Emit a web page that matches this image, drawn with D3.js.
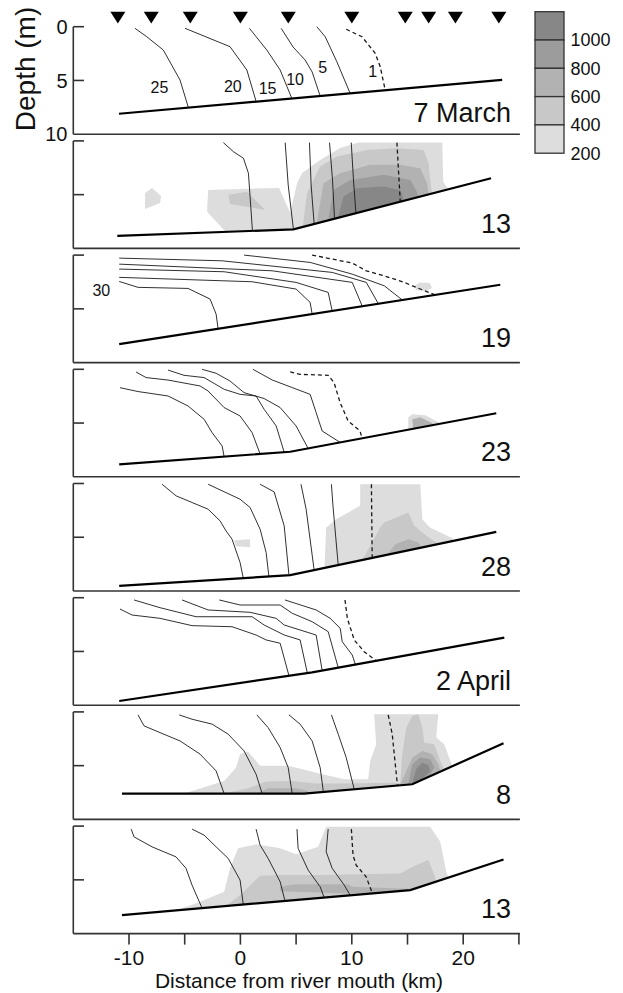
<!DOCTYPE html>
<html>
<head>
<meta charset="utf-8">
<script src="https://cdn.jsdelivr.net/npm/d3@7"></script>
<style>
  body { margin: 0; background: #fff; }
  text { font-family: "Liberation Sans", Arial, sans-serif; fill: #111; }
</style>
</head>
<body>
<div id="chart"></div>
<script>
// axis values
const xTicks = [-10, -5, 0, 5, 10, 15, 20, 25];
const xTickLabels = [-10, 0, 10, 20];
const depthTicks = [0, 5];
const depthLabels = [0, 5, 10];
const stationKm = [-11, -8, -4.5, 0, 4.3, 10, 14.8, 16.9, 19.3, 23.2];

// legend (concentration classes, top = highest)
const legendValues = [1000, 800, 600, 400, 200];
const shadeColors = ["#dddddd", "#c8c8c8", "#b2b2b2", "#9c9c9c", "#878787"]; // level 1..5

const panelNames = ["7 March", "13", "19", "23", "28", "2 April", "8", "13"];

// seabed profile per survey: [km, depth m]
const seabeds = [
  [[-10.9, 8.1], [23.5, 4.95]],
  [[-11.05, 8.84], [4.76, 8.23], [22.5, 3.47]],
  [[-10.88, 8.28], [23.33, 2.76]],
  [[-10.88, 8.84], [4.47, 7.67], [22.97, 4.09]],
  [[-10.88, 9.53], [4.47, 8.53], [22.97, 4.5]],
  [[-10.88, 9.61], [6.44, 6.94], [23.69, 3.72]],
  [[-10.63, 7.6], [5.72, 7.6], [15.43, 6.73], [23.62, 2.91]],
  [[-10.63, 8.28], [15.25, 5.95], [23.62, 3.1]]
];

// isohalines per survey: [salinity, points]
const isohalines = [
  [
    [25, [[-9.46, 0.15], [-8.41, 0.93], [-6.92, 2.17], [-5.42, 4.96], [-4.67, 7.52]]],
    [20, [[-4.97, 0.15], [-0.93, 1.86], [0.58, 4.03], [1.41, 6.95]]],
    [15, [[0.81, 0.15], [2.37, 2.17], [3.57, 4.03], [4.62, 6.68]]],
    [10, [[3.66, 0.15], [4.73, 1.89], [5.81, 3.1], [6.44, 4.21], [7.16, 6.45]]],
    [5, [[6.86, 0], [7.61, 0.93], [8.66, 3.26], [9.85, 6.2]]],
    [1, [[9.5, 0.24], [10.91, 0.93], [12.1, 2.47], [12.55, 3.72], [13.0, 5.9]]]
  ],
  [
    [25, [[-1.53, 0.16], [-0.63, 1.0], [0.27, 1.61], [0.72, 3.0], [0.87, 5.18], [1.08, 8.35]]],
    [20, [[4.02, 0.16], [4.29, 4.1], [4.76, 8.23]]],
    [15, [[6.2, 0.16], [6.35, 4.1], [6.62, 7.73]]],
    [10, [[8.0, 0.16], [8.27, 3.63], [8.45, 7.25]]],
    [5, [[9.95, 0.16], [10.15, 3.63], [10.37, 6.72]]],
    [1, [[14.05, 0.16], [14.35, 5.67]]]
  ],
  [
    [30, [[-10.88, 2.45], [-9.19, 3.0], [-4.7, 3.1], [-2.72, 4.09], [-2.18, 5.49], [-2.0, 6.85]]],
    [25, [[-10.88, 2.07], [1.05, 2.48], [5.0, 3.16], [6.26, 4.4], [6.44, 5.48]]],
    [20, [[-10.88, 1.3], [-1.46, 1.55], [5.0, 2.54], [7.88, 3.47], [8.24, 5.19]]],
    [15, [[-10.88, 0.84], [2.85, 1.46], [10.04, 2.54], [10.94, 4.76]]],
    [10, [[-10.88, 0.28], [-1.64, 0.53], [8.24, 1.61], [11.3, 2.54], [12.37, 4.5]]],
    [5, [[0.33, 0], [6.26, 0.68], [10.04, 1.77], [12.92, 2.86], [14.54, 4.18]]],
    [1, [[6.44, 0], [10.04, 0.74], [11.3, 1.46], [12.92, 1.93], [14.72, 2.54], [15.44, 2.86], [17.42, 3.68]]]
  ],
  [
    [25, [[-10.81, 1.71], [-9.19, 2.07], [-6.5, 2.48], [-4.7, 3.41], [-3.26, 4.65], [-2.54, 5.89], [-1.64, 7.13], [-1.46, 8.12]]],
    [20, [[-9.37, 0.25], [-8.47, 0.77], [-6.5, 1.0], [-3.62, 1.55], [-2.9, 2.02], [-1.46, 3.56], [-0.03, 4.34], [1.05, 5.89], [1.77, 7.88]]],
    [15, [[-6.5, 0.07], [-5.06, 0.56], [-3.26, 0.77], [-1.46, 1.86], [-0.03, 2.33], [1.41, 2.48], [2.13, 3.72], [3.21, 5.27], [3.93, 7.71]]],
    [10, [[-3.44, 0], [-2.18, 0.37], [-0.93, 1.09], [0.33, 2.17], [2.13, 2.72], [3.57, 3.56], [5.0, 5.27], [6.08, 7.36]]],
    [5, [[1.12, 0], [2.85, 0.99], [4.65, 1.7], [6.26, 2.33], [6.8, 4.03], [7.34, 5.74], [8.95, 6.8]]],
    [1, [[4.47, 0.25], [5.36, 0.47], [7.88, 0.56], [8.41, 1.24], [8.95, 3.1], [9.67, 4.81], [10.74, 5.74], [10.92, 6.42]]]
  ],
  [
    [25, [[-7.03, 0.07], [-5.77, 1.15], [-2.9, 2.39], [-1.82, 3.48], [-1.29, 4.41], [-0.75, 5.18], [-0.03, 7.35], [0.26, 8.8]]],
    [20, [[-2.9, 0.07], [-0.03, 1.46], [0.87, 2.23], [1.77, 4.25], [2.31, 6.42], [2.56, 8.65]]],
    [15, [[1.77, 0.07], [3.03, 0.78], [3.93, 3.94], [4.36, 8.54]]],
    [10, [[5.44, 0.07], [5.9, 2.39], [6.62, 8.06]]],
    [5, [[8.17, 0.07], [8.31, 2.08], [8.78, 7.59]]],
    [1, [[11.76, 0.07], [11.83, 6.93]]]
  ],
  [
    [25, [[-10.81, 1.05], [-9.73, 1.61], [-7.21, 1.92], [-4.34, 2.6], [-0.75, 2.7], [1.41, 3.47], [2.31, 3.93], [3.57, 4.24], [4.36, 7.26]]],
    [20, [[-9.55, 0.21], [-7.21, 0.93], [-3.98, 1.77], [1.05, 1.77], [2.13, 2.54], [3.93, 3.47], [5.36, 3.93], [6.01, 7.01]]],
    [15, [[-5.24, 0.21], [-2.9, 1.14], [0.87, 1.36], [3.21, 1.92], [3.93, 2.54], [6.8, 3.47], [7.34, 6.77]]],
    [10, [[-1.9, 0.21], [-0.03, 0.68], [3.57, 0.68], [4.65, 1.45], [6.44, 2.23], [7.88, 3.16], [8.78, 6.5]]],
    [5, [[4.0, 0.21], [6.8, 1.14], [8.06, 1.92], [8.96, 2.85], [9.14, 4.09], [10.04, 5.33], [10.32, 6.22]]],
    [1, [[9.39, 0.21], [9.6, 1.92], [10.22, 3.93], [11.11, 5.02], [12.19, 5.87]]]
  ],
  [
    [25, [[-9.19, 0.28], [-8.65, 1.3], [-7.21, 1.93], [-5.42, 2.7], [-3.62, 3.93], [-2.18, 5.49], [-1.46, 7.6]]],
    [20, [[-5.49, 0.28], [-4.34, 0.68], [-2.54, 1.14], [-1.1, 2.07], [0.33, 3.63], [1.41, 5.8], [1.95, 7.6]]],
    [15, [[1.48, 0.28], [2.49, 1.46], [3.57, 3.32], [4.29, 5.18], [4.65, 7.6]]],
    [10, [[4.36, 0.28], [5.36, 1.14], [6.44, 2.7], [7.16, 5.18], [7.45, 7.45]]],
    [5, [[8.17, 0.28], [8.78, 2.07], [9.5, 4.25], [10.22, 7.2]]],
    [1, [[13.27, 0.28], [13.63, 2.07], [13.81, 3.93], [14.1, 6.85]]]
  ],
  [
    [25, [[-9.8, 0.28], [-9.55, 1.0], [-7.93, 1.93], [-5.78, 2.86], [-4.88, 3.93], [-4.34, 5.49], [-3.44, 7.63]]],
    [20, [[-4.34, 0.28], [-3.26, 0.84], [-2.18, 1.93], [-1.1, 3.0], [-0.03, 5.02], [0.26, 7.3]]],
    [15, [[1.41, 0.28], [1.77, 1.77], [2.49, 3.0], [3.57, 5.18], [4.0, 6.96]]],
    [10, [[5.08, 0.28], [5.18, 2.07], [6.08, 4.09], [7.16, 5.65], [7.52, 6.65]]],
    [5, [[7.88, 0.28], [7.7, 2.39], [8.24, 3.93], [9.32, 5.49], [9.86, 6.44]]],
    [1, [[9.96, 0.28], [10.11, 2.7], [10.39, 3.63], [11.29, 4.72], [11.83, 6.2]]]
  ]
];

// salinity labels on the first survey: [text, km, depth]
const salinityLabels = [["25", -7.27, 5.6], ["20", -0.68, 5.5], ["15", 2.44, 5.7], ["10", 4.91, 4.91], ["5", 7.39, 3.79], ["1", 11.88, 4.1]];
const panel3Label = ["30", -12.48, 3.27];

// shaded concentration areas per survey: [level 1..5, points]
const patches = [
  [],
  [
    [1, [[-8.56, 4.84], [-7.93, 4.37], [-7.12, 5.12], [-7.21, 5.77], [-8.56, 6.33]]],
    [1, [[-1.28, 8.5], [-2.99, 6.6], [-2.9, 4.56], [3.48, 4.37], [4.47, 6.7], [5.09, 3.91], [5.54, 2.98], [7.16, 1.77], [8.95, 0.65], [10.57, 0.16], [18.12, 0.16], [18.21, 3.81], [18.66, 4.52], [19, 5.5], [4.76, 9]]],
    [2, [[-1.08, 5.02], [0.58, 4.72], [2.22, 6.42], [-0.93, 5.86]]],
    [2, [[5.54, 8.5], [5.97, 4.87], [7.16, 2.39], [8.66, 1.46], [11.36, 0.84], [14.05, 0.68], [16.44, 0.84], [16.89, 2.07], [17.04, 3.63], [17.2, 4.91], [17.5, 5.5], [5.54, 9]]],
    [3, [[6.71, 8.5], [7.46, 3.93], [8.95, 3.0], [11.65, 2.23], [14.35, 2.23], [16.15, 2.54], [16.75, 3.93], [16.89, 4.99], [17.2, 5.5], [6.71, 9]]],
    [4, [[7.76, 8.0], [8.36, 4.56], [9.86, 3.63], [12.85, 3.16], [15.25, 3.63], [15.85, 4.72], [15.97, 5.25], [16.2, 6], [7.76, 9]]],
    [5, [[8.66, 7.6], [9.25, 5.18], [10.46, 4.4], [12.85, 4.25], [14.35, 4.56], [14.65, 5.49], [14.8, 5.56], [15, 6.5], [8.66, 8]]]
  ],
  [
    [1, [[15.6, 2.88], [16.1, 2.56], [17.0, 2.6], [17.2, 3.07], [16.7, 3.35], [15.8, 3.26]]]
  ],
  [
    [1, [[15.07, 4.47], [15.43, 4.19], [16.6, 4.28], [17.94, 5.02], [18.2, 6.2], [15.07, 6.6]]],
    [3, [[15.43, 4.65], [16.15, 4.47], [17.23, 5.02], [17.5, 6.0], [15.61, 6.5]]]
  ],
  [
    [1, [[-0.57, 5.27], [0.87, 5.18], [0.87, 5.93], [-0.39, 5.83]]],
    [1, [[7.52, 8.5], [7.7, 4.09], [8.6, 3.32], [10.75, 2.08], [10.75, 0.07], [16.15, 0.07], [16.33, 3.32], [17.02, 4.09], [19.02, 5.1], [19.5, 6], [7.52, 9]]],
    [2, [[10.75, 7.5], [12.55, 4.09], [12.91, 3.63], [15.07, 2.7], [15.61, 3.94], [16.68, 4.87], [17.9, 5.7], [17.9, 7], [10.75, 8]]],
    [3, [[12.73, 7.2], [13.9, 5.65], [15.07, 5.18], [15.97, 5.46], [16.4, 6.2], [12.73, 7.5]]]
  ],
  [],
  [
    [1, [[-5.06, 7.6], [-1.46, 6.42], [-0.39, 5.18], [-0.03, 3.93], [0.69, 3.69], [1.77, 5.02], [4.29, 5.02], [6.8, 5.65], [9.3, 6.26], [11.47, 6.26], [11.65, 4.56], [12.19, 3.0], [12.01, 0.21], [17.76, 0.21], [17.58, 2.39], [18.3, 3.0], [19.02, 5.05], [19.5, 6], [-5.06, 8.5]]],
    [2, [[-1.46, 7.6], [0.69, 7.1], [2.31, 6.48], [4.65, 6.42], [6.8, 6.67], [9.3, 6.67], [14.35, 6.57], [14.53, 3.93], [14.89, 1.46], [15.43, 0.37], [15.97, 0.21], [16.33, 1.46], [16.51, 2.86], [17.4, 3.0], [17.94, 4.56], [18.3, 5.4], [18.6, 6.5], [-1.46, 8.5]]],
    [3, [[1.41, 7.6], [2.49, 7.1], [5.0, 7.1], [6.08, 7.35], [6.08, 8], [1.41, 8]]],
    [3, [[14.35, 6.79], [14.89, 5.49], [15.43, 4.25], [16.33, 3.63], [17.22, 3.93], [17.76, 4.84], [17.94, 5.49], [17.9, 6.5], [14.35, 7.2]]],
    [4, [[15.07, 6.7], [15.43, 4.87], [16.15, 4.25], [17.05, 4.4], [17.4, 5.18], [16.87, 6.23], [15.07, 7]]],
    [5, [[15.43, 6.6], [15.79, 5.3], [16.33, 4.74], [16.87, 4.93], [17.05, 5.49], [16.15, 6.42]]]
  ],
  [
    [1, [[-5.78, 7.84], [-3.62, 7.04], [-1.46, 6.11], [-0.93, 3.93], [-0.21, 2.07], [1.41, 1.7], [3.57, 2.07], [5.0, 2.63], [6.98, 1.93], [7.7, 0.07], [17.04, 0.07], [17.94, 1.46], [18.48, 4.25], [18.9, 5.5], [-5.78, 8.5]]],
    [2, [[-1.28, 7.44], [-0.03, 6.42], [1.77, 4.62], [3.57, 4.56], [7.16, 4.56], [10.75, 4.49], [14.35, 4.4], [15.79, 3.63], [16.87, 3.16], [17.4, 4.56], [17.7, 5.6], [-1.28, 8]]],
    [3, [[3.57, 5.65], [5.0, 5.42], [9.67, 5.42], [10.04, 5.65], [15.43, 5.86], [14.35, 6.17], [9.67, 6.26], [3.57, 6.05]]]
  ]
];

// layout
const W = 623, H = 993;
const firstTop = 26.7, panelStep = 114.2, panelH = 107.5;

const svg = d3.select("#chart").append("svg")
  .attr("width", W)
  .attr("height", H);

const x = d3.scaleLinear().domain([-15, 25]).range([73.3, 518.9]);
const y = d3.scaleLinear().domain([0, 10]).range([0, panelH]);

const line = d3.line().x(d => x(d[0])).y(d => y(d[1]));
const poly = d3.line().x(d => x(d[0])).y(d => y(d[1])).curve(d3.curveLinearClosed);

panelNames.forEach(function (name, i) {
  const top = firstTop + i * panelStep;
  const g = svg.append("g").attr("transform", `translate(0,${top})`);
  const sb = seabeds[i];

  // water column above the seabed, for clipping the shading
  const water = [[sb[0][0], -0.5]].concat(sb, [[sb[sb.length - 1][0], -0.5]]);
  g.append("clipPath").attr("id", "clip" + i)
    .append("path").attr("d", poly(water));

  g.append("g").attr("clip-path", `url(#clip${i})`)
    .selectAll("path")
    .data(patches[i])
    .enter().append("path")
    .attr("d", d => poly(d[1]))
    .attr("fill", d => shadeColors[d[0] - 1])
    .attr("stroke", "none");

  g.selectAll("path.iso")
    .data(isohalines[i])
    .enter().append("path")
    .attr("class", "iso")
    .attr("d", d => line(d[1]))
    .attr("fill", "none")
    .attr("stroke", "#1a1a1a")
    .attr("stroke-width", d => d[0] === 1 ? 1.3 : 0.9)
    .attr("stroke-dasharray", d => d[0] === 1 ? "4,3" : null);

  g.append("path")
    .attr("d", line(sb))
    .attr("fill", "none")
    .attr("stroke", "#000")
    .attr("stroke-width", 2.2);

  // frame
  g.append("line")
    .attr("x1", x(-15)).attr("x2", x(-15))
    .attr("y1", y(0)).attr("y2", y(10))
    .attr("stroke", "#333").attr("stroke-width", 1.6);
  g.append("line")
    .attr("x1", x(-15)).attr("x2", x(25) + 1)
    .attr("y1", y(10)).attr("y2", y(10))
    .attr("stroke", "#333").attr("stroke-width", 1.6);
  g.selectAll("line.tk")
    .data(depthTicks)
    .enter().append("line")
    .attr("class", "tk")
    .attr("x1", x(-15)).attr("x2", x(-15) + 10.7)
    .attr("y1", d => y(d)).attr("y2", d => y(d))
    .attr("stroke", "#333").attr("stroke-width", 1.6);

  g.append("text")
    .attr("x", 511)
    .attr("y", y(10) - (i === 0 ? 12.6 : 15.5))
    .attr("text-anchor", "end")
    .style("font-size", "27px")
    .text(name);

  if (i === 0) {
    g.selectAll("text.dl")
      .data(depthLabels)
      .enter().append("text")
      .attr("class", "dl")
      .attr("x", 67.5)
      .attr("y", d => y(d))
      .attr("dy", "0.36em")
      .attr("text-anchor", "end")
      .style("font-size", "20px")
      .text(d => d);

    g.selectAll("text.sal")
      .data(salinityLabels)
      .enter().append("text")
      .attr("class", "sal")
      .attr("x", d => x(d[1]))
      .attr("y", d => y(d[2]))
      .attr("dy", "0.36em")
      .attr("text-anchor", "middle")
      .style("font-size", "16px")
      .text(d => d[0]);
  }
  if (i === 2) {
    g.append("text")
      .attr("x", x(panel3Label[1]))
      .attr("y", y(panel3Label[2]))
      .attr("dy", "0.36em")
      .attr("text-anchor", "middle")
      .style("font-size", "16px")
      .text(panel3Label[0]);
  }
});

// station markers
svg.selectAll("path.st")
  .data(stationKm)
  .enter().append("path")
  .attr("class", "st")
  .attr("d", d => `M${x(d) - 7.5},11.7L${x(d) + 7.5},11.7L${x(d)},23.5Z`)
  .attr("fill", "#000");

// depth title
svg.append("text")
  .attr("transform", "translate(35,69) rotate(-90)")
  .attr("text-anchor", "middle")
  .style("font-size", "28px")
  .text("Depth (m)");

// x axis
const axisY = firstTop + 7 * panelStep + panelH;
svg.selectAll("line.xt")
  .data(xTicks)
  .enter().append("line")
  .attr("class", "xt")
  .attr("x1", d => x(d)).attr("x2", d => x(d))
  .attr("y1", axisY).attr("y2", axisY + 11)
  .attr("stroke", "#333").attr("stroke-width", 1.6);
svg.selectAll("text.xl")
  .data(xTickLabels)
  .enter().append("text")
  .attr("class", "xl")
  .attr("x", d => x(d))
  .attr("y", axisY + 31)
  .attr("text-anchor", "middle")
  .style("font-size", "21px")
  .text(d => d);
svg.append("text")
  .attr("x", 299)
  .attr("y", axisY + 54.5)
  .attr("text-anchor", "middle")
  .style("font-size", "21px")
  .text("Distance from river mouth (km)");

// legend
const legX = 535, legY = 11.7, legW = 29, legH = 28.3;
svg.selectAll("rect.leg")
  .data(legendValues)
  .enter().append("rect")
  .attr("class", "leg")
  .attr("x", legX)
  .attr("y", (d, i) => legY + i * legH)
  .attr("width", legW)
  .attr("height", legH)
  .attr("fill", (d, i) => shadeColors[legendValues.length - 1 - i])
  .attr("stroke", "#333")
  .attr("stroke-width", 1.3);
svg.selectAll("text.leg")
  .data(legendValues)
  .enter().append("text")
  .attr("class", "leg")
  .attr("x", legX + legW + 6.5)
  .attr("y", (d, i) => legY + (i + 1) * legH)
  .attr("dy", "0.36em")
  .style("font-size", "18px")
  .text(d => d);
</script>
</body>
</html>
